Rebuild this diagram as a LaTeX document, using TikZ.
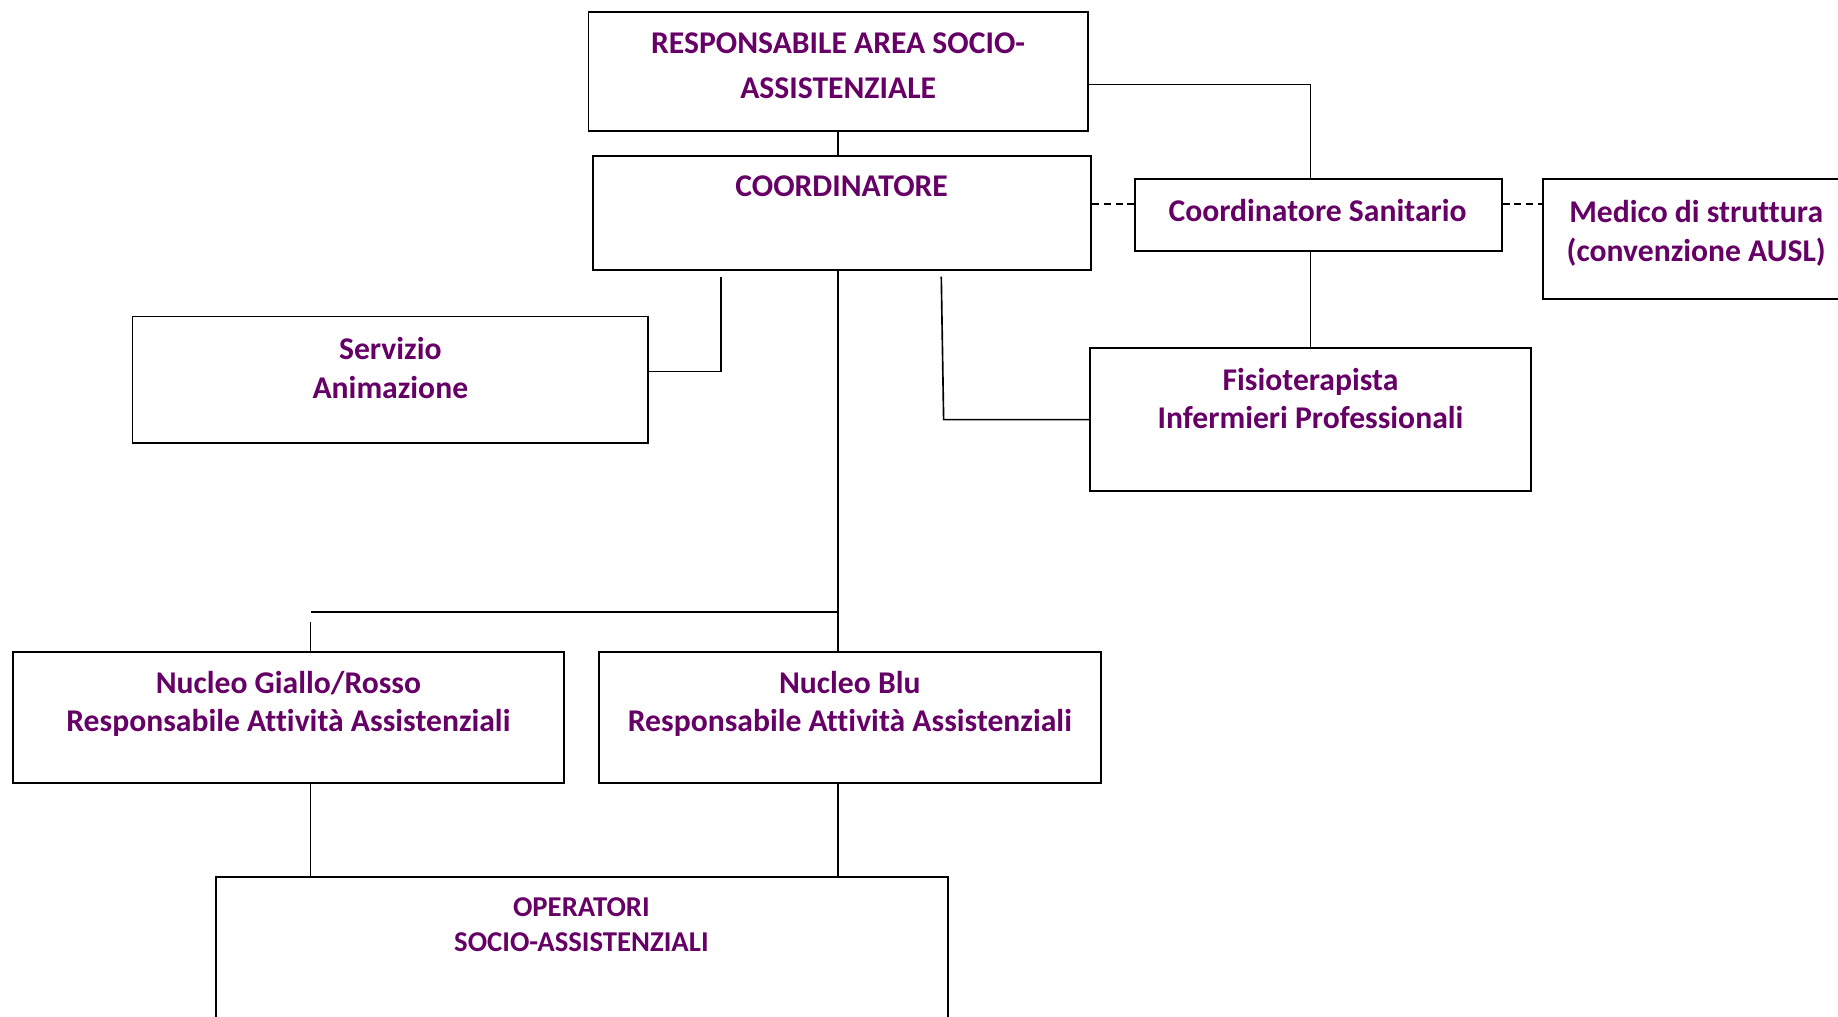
\documentclass[tikz,border=0pt]{standalone}
\usepackage{fontspec}
\setmainfont[Ligatures=NoCommon]{Carlito}
\definecolor{org}{RGB}{102,0,102}
\begin{document}
\begin{tikzpicture}[x=1pt,y=-1pt,
  box/.style={draw=black,line width=1.6pt,inner sep=0pt,fill=none},
  txt/.style={text=org,font=\bfseries\fontsize{27}{33}\selectfont,align=center,inner sep=0pt},
  stxt/.style={text=org,font=\bfseries\fontsize{24.5}{30}\selectfont,align=center,inner sep=0pt},
  conn/.style={draw=black,line width=1.4pt},
  dconn/.style={draw=black,line width=1.4pt,dash pattern=on 6pt off 4pt}]
\useasboundingbox (0,0) rectangle (1568,867);
% boxes
\node[box,minimum width=426pt,minimum height=102pt] (resp) at (715,61) {};
\node[box,minimum width=425pt,minimum height=97pt] (coord) at (718.5,181.5) {};
\node[box,minimum width=313pt,minimum height=61pt] (cs) at (1124.5,183.5) {};
\node[box,minimum width=262pt,minimum height=102pt] (med) at (1447,204) {};
\node[box,minimum width=376pt,minimum height=122pt] (fisio) at (1118,358) {};
\node[box,minimum width=440pt,minimum height=108pt] (serv) at (333,324) {};
\node[box,minimum width=470pt,minimum height=112pt] (ngr) at (246,612) {};
\node[box,minimum width=428pt,minimum height=112pt] (nblu) at (725,612) {};
\node[box,minimum width=625pt,minimum height=152pt] (oper) at (496.5,824) {};
% texts
\node[txt,font=\bfseries\fontsize{27}{38}\selectfont] (tresp) at (715,56) {RESPONSABILE AREA SOCIO-\\ASSISTENZIALE};
\node[txt] (tcoord) at (718,159) {COORDINATORE};
\node[txt] (tcs) at (1124,180) {Coordinatore Sanitario};
\node[txt] (tmed) at (1447,199) {Medico di struttura\\(convenzione AUSL)};
\node[txt] (tfisio) at (1118,340) {Fisioterapista\\Infermieri Professionali};
\node[txt] (tserv) at (333,314) {Servizio\\Animazione};
\node[txt] (tngr) at (246,600.5) {Nucleo Giallo/Rosso\\Responsabile Attività Assistenziali};
\node[txt] (tnblu) at (725,600.5) {Nucleo Blu\\Responsabile Attività Assistenziali};
\node[stxt] (toper) at (496,789) {OPERATORI\\SOCIO-ASSISTENZIALI};
% helper coordinates
\coordinate (k1) at (1118,72);
\coordinate (d1) at (0,174);
\coordinate (s1) at (615,236);
\coordinate (s2) at (615,317);
\coordinate (f1) at (803,236);
\coordinate (f2) at (805,358);
\coordinate (m) at (715,522);
\coordinate (m2) at (265,522);
\coordinate (g1) at (265,531);
% connectors
\draw[conn] (resp.south) -- (resp.south |- coord.north);
\draw[conn] (resp.east |- k1) -- (k1) -- (k1 |- cs.north);
\draw[conn] (k1 |- cs.south) -- (fisio.north);
\draw[dconn] (coord.east |- d1) -- (cs.west |- d1);
\draw[dconn] (cs.east |- d1) -- (med.west |- d1);
\draw[conn] (s1) -- (s2) -- (serv.east |- s2);
\draw[conn] (f1) -- (f2) -- (fisio.west);
\draw[conn] (m |- coord.south) -- (m |- nblu.north);
\draw[conn] (m) -- (m2);
\draw[conn] (g1) -- (g1 |- ngr.north);
\draw[conn] (ngr.south -| m2) -- (m2 |- oper.north);
\draw[conn] (nblu.south -| m) -- (m |- oper.north);
\end{tikzpicture}
\end{document}
